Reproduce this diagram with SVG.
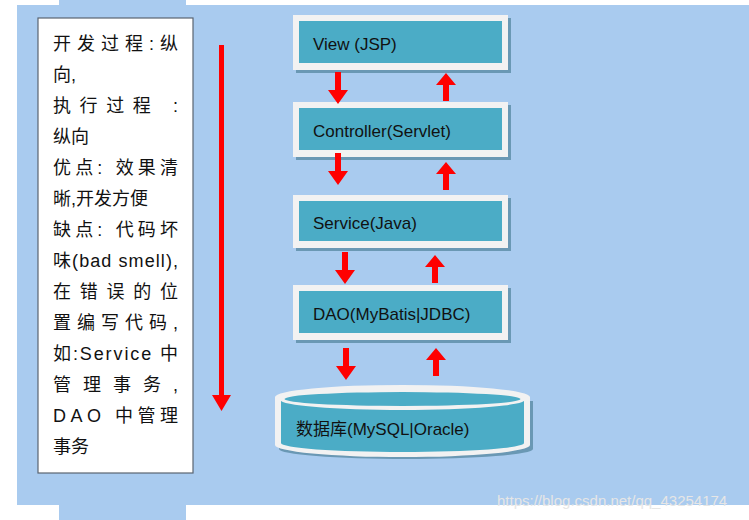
<svg xmlns="http://www.w3.org/2000/svg" width="749" height="520" viewBox="0 0 749 520">
<defs>
<style>
.lbl{font-family:"Liberation Sans","Noto Sans CJK SC",sans-serif;font-size:17px;fill:#111}
.note{font-family:"Liberation Sans","Noto Sans CJK SC",sans-serif;font-size:18px;fill:#111}
.outer{fill:#f2f2f2}
.shadow{fill:#6a98b4}
.inner{fill:#4bacc6}
.arr{fill:#ff0000}
</style>
<g id="dn"><path d="M-3,0 h6 v18 h7 l-10,14 l-10,-14 h7 z"/></g>
<g id="up"><path d="M-3,28 h6 v-16 h7 l-10,-12 l-10,12 h7 z"/></g>
</defs>
<rect width="749" height="520" fill="#fff"/>
<rect x="17" y="5" width="732" height="500" fill="#a9cbef"/>
<rect x="59" y="0" width="127" height="520" fill="#a9cbef"/>
<g id="note">
<rect x="38" y="18" width="155" height="455" fill="#fff" stroke="#5a6470" stroke-width="1.2"/>
<text class="note" x="53" y="50" textLength="125" lengthAdjust="spacing">开发过程:纵</text>
<text class="note" x="53" y="81">向,</text>
<text class="note" x="53" y="112" textLength="125" lengthAdjust="spacing">执行过程  :</text>
<text class="note" x="53" y="143">纵向</text>
<text class="note" x="53" y="174" textLength="125" lengthAdjust="spacing">优点: 效果清</text>
<text class="note" x="53" y="205">晰,开发方便</text>
<text class="note" x="53" y="236" textLength="125" lengthAdjust="spacing">缺点: 代码坏</text>
<text class="note" x="53" y="267" textLength="125" lengthAdjust="spacing">味(bad smell),</text>
<text class="note" x="53" y="298" textLength="125" lengthAdjust="spacing">在错误的位</text>
<text class="note" x="53" y="329" textLength="125" lengthAdjust="spacing">置编写代码,</text>
<text class="note" x="53" y="360" textLength="125" lengthAdjust="spacing">如:Service 中</text>
<text class="note" x="53" y="391" textLength="125" lengthAdjust="spacing">管理事务,</text>
<text class="note" x="53" y="422" textLength="125" lengthAdjust="spacing">DAO 中管理</text>
<text class="note" x="53" y="453">事务</text>
</g>
<g id="view">
<rect class="shadow" x="296" y="18" width="215" height="55"/>
<rect class="outer" x="293" y="15" width="215" height="55"/>
<rect class="inner" x="299" y="21" width="203" height="42"/>
<text class="lbl" x="313" y="50">View (JSP)</text>
</g>
<g id="controller">
<rect class="shadow" x="296" y="105" width="215" height="55"/>
<rect class="outer" x="293" y="102" width="215" height="55"/>
<rect class="inner" x="299" y="108" width="203" height="42"/>
<text class="lbl" x="313" y="137">Controller(Servlet)</text>
</g>
<g id="service">
<rect class="shadow" x="296" y="198" width="215" height="53"/>
<rect class="outer" x="293" y="195" width="215" height="53"/>
<rect class="inner" x="299" y="201" width="203" height="40"/>
<text class="lbl" x="313" y="229">Service(Java)</text>
</g>
<g id="dao">
<rect class="shadow" x="296" y="288" width="215" height="55"/>
<rect class="outer" x="293" y="285" width="215" height="55"/>
<rect class="inner" x="299" y="291" width="203" height="42"/>
<text class="lbl" x="313" y="320">DAO(MyBatis|JDBC)</text>
</g>
<g id="db">
<path class="shadow" d="M279,401 v48 a127,10 0 0 0 254,0 v-48 z"/>
<path class="outer" d="M275,397 v48 a127,12 0 0 0 255,0 v-48 a127,12 0 0 0 -255,0 z"/>
<path class="inner" d="M281,401 v42 a121,9 0 0 0 243,0 v-42 z"/>
<path class="outer" d="M281,401 a121,9 0 0 0 243,0 v5 a121,9 0 0 1 -243,0 z" opacity="0"/>
<ellipse class="outer" cx="402.5" cy="400" rx="122" ry="10"/>
<ellipse class="inner" cx="402.5" cy="399" rx="118" ry="7"/>
<text class="lbl" x="296" y="435">数据库(MySQL|Oracle)</text>
</g>
<g id="connectors" class="arr">
<path d="M219,45 h5 v350 h7 l-9.5,16 l-9.5,-16 h7 z"/>
<use href="#dn" x="338" y="72"/>
<use href="#up" x="446" y="73"/>
<use href="#dn" x="338" y="153"/>
<use href="#up" x="446" y="162"/>
<use href="#dn" x="345" y="252"/>
<use href="#up" x="435" y="255"/>
<use href="#dn" x="346" y="348"/>
<use href="#up" x="436" y="348"/>
</g>
<text x="497" y="506" font-family="Liberation Sans,sans-serif" font-size="15" fill="#e6e6e6">https://blog.csdn.net/qq_43254174</text>
</svg>
